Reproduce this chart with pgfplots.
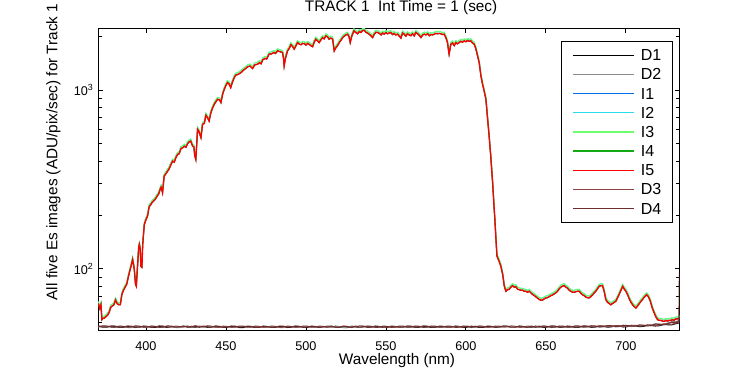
\documentclass[border=0pt]{standalone}
\usepackage{fontspec}
\setmainfont{Liberation Sans}
\usepackage{pgfplots}
\usepackage{pgfplotstable}
\pgfplotsset{compat=1.18}

\definecolor{cD1}{RGB}{0,0,0}
\definecolor{cD2}{RGB}{140,140,140}
\definecolor{cI1}{RGB}{0,114,230}
\definecolor{cI2}{RGB}{40,220,235}
\definecolor{cI3}{RGB}{110,255,110}
\definecolor{cI4}{RGB}{20,170,20}
\definecolor{cI5}{RGB}{255,0,0}
\definecolor{cD3}{RGB}{140,70,70}
\definecolor{cD4}{RGB}{110,45,45}

% signal: x, lower traces (I1,I4,I5), upper traces (I2,I3)
\pgfplotstableread{
x lo hi
370.3 64 65.6
371.2 60 61.5
371.9 63 64.6
372.5 52 53.3
373.2 53 54.3
374.0 53 54.3
375.0 54 55.4
376.0 55 56.4
377.0 57 58.4
378.0 61 62.5
379.0 62 63.6
380.0 63 64.6
381.0 67 68.7
382.0 64 65.6
383.0 63 64.6
384.0 63 64.6
385.0 72 73.8
386.0 76 77.9
387.0 79 81
388.0 82 84
389.0 90 92.3
390.0 98 100.5
391.0 106 108.7
391.7 113 115.8
392.7 100 102.5
393.5 82 84
394.0 80 82
394.9 108 110.7
395.5 132 135
395.9 137 140
396.4 130 133
396.9 103 105.6
397.5 102 104.6
398.0 137 140
399.0 177 181
400.0 188 193
401.0 197 202
402.0 222 228
403.0 228 234
404.0 236 242
405.0 240 246
406.0 246 252
407.0 255 261
408.0 262 269
409.0 280 287
409.5 286 293
410.4 266 273
411.4 330 338
412.5 340 349
413.5 351 360
414.5 362 371
415.5 380 390
416.7 400 410
417.7 395 405
418.7 418 428
419.8 436 447
420.8 440 451
421.9 470 482
423.0 475 487
424.0 485 497
425.0 478 490
426.0 500 513
427.0 512 525
428.0 518 531
429.2 485 497
430.0 480 492
430.5 430 441
431.2 409 419
432.3 603 618
433.0 590 605
434.4 541 555
435.4 643 659
436.5 650 666
437.5 722 740
438.5 700 718
439.5 670 687
440.5 740 759
441.7 795 815
443.0 840 861
444.8 887 909
446.0 880 902
446.9 850 871
448.0 950 974
449.0 1009 1034
450.0 1060 1087
451.0 1100 1128
452.0 1080 1107
453.0 1030 1056
454.0 1100 1128
455.0 1160 1189
456.0 1208 1238
457.5 1220 1251
459.4 1250 1281
461.0 1290 1322
462.5 1320 1353
463.5 1345 1379
465.0 1360 1394
466.7 1318 1351
468.0 1380 1415
469.8 1393 1428
471.0 1420 1456
472.0 1400 1435
473.0 1473 1510
474.5 1500 1538
475.5 1490 1527
477.0 1585 1625
478.5 1590 1630
480.0 1620 1661
481.0 1600 1640
482.3 1653 1694
483.5 1640 1681
485.4 1618 1658
486.0 1500 1538
486.4 1362 1396
487.2 1500 1538
488.5 1653 1694
489.5 1700 1743
490.6 1790 1835
491.6 1750 1794
492.7 1690 1732
493.7 1760 1804
494.8 1840 1886
496.0 1800 1845
497.0 1790 1835
498.0 1820 1866
499.0 1815 1860
500.0 1780 1825
501.0 1820 1866
502.0 1800 1845
503.0 1770 1814
504.2 1745 1789
505.2 1850 1896
506.2 1923 1971
507.3 1880 1927
508.3 1840 1886
509.3 1900 1948
510.4 1960 2009
511.4 1930 1978
512.5 2005 2055
513.5 1980 2030
514.5 1923 1971
515.6 1950 1999
516.7 1923 1971
517.7 1653 1694
518.7 1720 1763
519.8 1770 1814
521.0 1850 1896
522.0 1900 1948
523.0 1963 2012
524.0 2000 2050
525.0 2030 2081
526.0 2050 2101
527.0 1980 2030
527.7 1840 1886
528.7 2000 2050
530.0 2140 2194
531.0 2100 2153
532.3 2060 2112
533.4 2120 2173
534.4 2095 2147
535.4 2150 2204
536.4 2158 2212
537.5 2100 2153
538.5 2080 2132
539.5 2050 2101
540.6 2010 2060
541.7 1963 2012
542.7 2050 2101
543.8 2100 2153
544.8 2095 2147
545.9 2070 2122
547.0 2030 2081
548.0 2080 2132
549.0 2050 2101
550.0 2090 2142
551.0 2060 2112
552.0 2080 2132
553.0 2095 2147
554.1 2040 2091
555.1 2070 2122
556.2 2030 2081
557.3 2050 2101
558.3 2000 2050
559.4 1950 1999
560.4 2080 2132
561.4 2050 2101
562.5 2000 2050
563.5 2060 2112
564.5 2030 2081
565.6 2010 2060
566.6 2060 2112
567.7 2005 2055
568.7 2095 2147
569.8 2060 2112
570.8 2020 2071
571.9 1963 2012
573.0 2030 2081
574.0 2050 2101
575.0 2030 2081
576.1 2060 2112
577.1 2010 2060
578.1 2040 2091
579.2 2030 2081
580.2 2050 2101
581.2 2070 2122
582.3 2060 2112
583.3 2070 2122
584.4 2060 2112
585.4 2040 2091
586.4 2050 2101
587.5 1960 2009
588.5 1840 1886
589.0 1700 1743
589.5 1585 1625
590.1 1700 1743
590.6 1803 1848
591.6 1830 1876
592.7 1770 1814
593.7 1840 1886
594.7 1810 1855
595.8 1840 1886
596.8 1870 1917
597.8 1850 1896
599.0 1880 1927
600.0 1860 1907
601.0 1890 1937
602.0 1870 1917
603.1 1880 1927
604.1 1830 1876
605.2 1803 1848
606.2 1700 1743
607.3 1550 1589
608.3 1422 1458
609.4 1197 1227
610.4 1077 1104
611.4 987 1012
612.5 887 909
613.5 700 718
614.6 541 555
615.6 418 428
616.7 303 311
617.7 215 220
618.1 189 194
618.8 146 150
619.4 118 121
620.8 110 113
621.9 103 106
623.0 93 95
624.0 80 82
625.0 75 76.9
626.0 76.5 78.4
627.1 77 78.9
628.1 79 81
629.2 80.6 82.6
630.2 79 81
631.2 79.5 81.5
632.3 77 78.9
633.3 76.5 78.4
634.4 75.9 77.8
635.4 76 77.9
636.4 75 76.9
637.5 75 76.9
638.5 74 75.9
639.6 75 76.9
640.6 73.4 75.2
641.6 72 73.8
642.7 71 72.8
643.8 69.7 71.4
644.8 68.5 70.2
645.8 67.5 69.2
646.9 66.7 68.4
648.0 67 68.7
649.0 68 69.7
650.0 68.8 70.5
651.0 69 70.7
652.1 70 71.8
653.1 70.8 72.6
654.1 71.5 73.3
655.2 72.5 74.3
656.2 73.4 75.2
657.3 75 76.9
658.3 77.3 79.2
659.3 79 81
660.4 80 82
661.4 80.6 82.6
662.5 79 81
663.5 78 80
664.6 75.9 77.8
665.6 75 76.9
666.7 74 75.9
667.7 74 75.9
668.7 74.5 76.4
669.8 75 76.9
670.8 75 76.9
671.9 73 74.8
673.0 71.5 73.3
674.0 70.8 72.6
675.0 69.5 71.2
676.0 69 70.7
677.0 68.8 70.5
678.1 70 71.8
679.1 71.5 73.3
680.2 73.4 75.2
681.2 75 76.9
682.3 77.5 79.4
683.3 79.9 81.9
684.4 80.5 82.5
685.4 80.6 82.6
686.4 75 76.9
687.5 67.3 69
688.5 65 66.6
689.6 64 65.6
690.6 63 64.6
691.6 64 65.6
692.7 65 66.6
693.7 65.8 67.4
694.8 69 70.7
695.8 72 73.8
696.9 75.9 77.8
698.0 79.9 81.9
699.0 77 78.9
700.0 75 76.9
701.1 71.7 73.5
702.1 68 69.7
703.2 65 66.6
704.2 63 64.6
705.2 61.5 63
706.3 60.4 61.9
707.3 62 63.6
708.4 64 65.6
709.4 65.8 67.4
710.4 67.5 69.2
711.5 69.5 71.2
712.5 71 72.8
713.0 71.7 73.5
714.0 70 71.8
715.0 67 68.7
715.6 64.5 66.1
716.6 60 61.5
717.7 56.7 58.1
718.7 54 55.4
719.8 52 53.3
720.8 51.5 52.8
722.0 51.5 52.8
723.0 51 52.3
724.0 50.9 52.2
725.0 51.5 52.8
726.0 51 52.3
727.0 51.5 52.8
728.1 51.5 52.8
729.0 52 53.3
730.0 51.5 52.8
731.2 52.5 53.8
732.3 52.5 53.8
733.3 53 54.3
733.6 53.5 54.8
}\sig

\pgfplotstableread{
x D1 D2 D3 D4
370.3 47.8 47.2 48.1 47.5
373 47.2 47.8 47.3 48.0
376 47.3 47.7 47.4 47.9
378.5 47.9 47.1 48.0 47.3
381 47.6 47.1 47.9 47.2
383.5 47.0 47.7 47.2 47.9
386 47.1 47.5 47.3 47.7
388.5 47.7 47.0 48.0 47.2
391 47.5 47.0 47.8 47.4
393.5 47.0 47.8 47.2 48.0
396 47.2 47.6 47.1 47.8
398.5 47.8 47.1 47.9 47.3
401 47.6 47.3 47.7 47.2
403.5 47.1 47.9 47.2 47.9
406 47.0 47.6 47.4 47.6
408.5 47.7 47.0 48.1 47.1
411 47.4 47.1 47.9 47.3
413.5 47.0 47.8 47.3 48.0
416 47.7 47.5 47.2 47.8
418.5 47.1 47.0 47.9 47.2
421 47.2 47.0 47.6 47.4
423.5 47.8 47.6 47.2 47.9
426 47.5 47.8 47.9 47.1
428.5 47.0 47.1 47.3 47.8
431 47.1 47.3 48.2 47.6
433.5 47.7 47.9 47.4 47.1
436 47.6 47.0 47.5 47.9
438.5 47.1 47.7 48.1 47.3
441 47.3 47.6 47.8 47.2
443.5 47.8 47.0 47.2 47.9
446 47.7 47.2 47.1 47.6
448.5 47.1 47.8 47.8 47.1
451 47.2 47.5 47.6 47.3
453.5 47.8 47.0 47.1 47.9
456 47.5 47.1 47.3 47.8
458.5 47.0 47.7 47.9 47.2
461 47.0 47.6 47.8 47.4
463.5 47.6 47.0 47.2 47.9
466 47.4 47.2 47.2 47.7
468.5 47.0 47.8 47.9 47.1
471 47.2 47.6 47.6 47.1
473.5 47.8 47.1 47.1 47.8
476 47.6 47.1 47.3 47.5
478.5 47.1 47.8 47.9 47.1
481 47.1 47.4 47.7 47.2
483.5 47.7 47.0 47.1 47.9
486 47.5 47.0 47.2 47.8
488.5 47.0 47.7 47.9 47.2
491 47.2 47.5 47.6 47.4
493.5 47.8 47.0 47.1 47.9
496 47.6 47.2 47.3 47.7
498.5 47.1 47.8 47.9 47.1
501 47.1 47.6 47.8 47.2
503.5 47.7 47.0 47.2 47.9
506 47.4 47.1 47.2 47.6
508.5 47.0 47.7 47.9 47.1
511 47.7 47.5 47.6 47.3
513.5 47.1 47.1 47.1 47.9
516 47.2 47.0 47.9 47.8
518.5 47.8 47.7 47.2 47.1
521 47.5 47.6 47.3 47.1
523.5 47.0 47.0 47.9 47.8
526 47.0 47.2 47.7 47.5
528.5 47.7 47.8 47.1 47.0
531 47.4 47.7 47.4 47.9
533.5 47.0 47.1 48.0 47.2
536 47.7 47.3 47.9 47.4
538.5 47.1 47.8 47.2 47.9
541 47.2 47.6 47.3 47.7
543.5 47.8 47.0 47.9 47.1
546 47.5 47.1 47.7 47.2
548.5 47.0 47.7 47.1 47.9
551 47.1 47.5 47.2 47.6
553.5 47.7 47.1 47.9 47.1
556 47.6 47.0 47.6 47.3
558.5 47.1 47.7 47.1 47.9
561 47.3 47.4 47.3 47.8
563.5 47.9 47.0 47.9 47.2
566 47.6 47.1 47.8 47.4
568.5 47.0 47.8 47.2 47.9
571 47.2 47.6 47.4 47.7
573.5 47.8 47.0 48.0 47.1
576 47.5 47.2 47.9 47.3
578.5 47.0 47.8 47.2 47.9
581 47.1 47.5 47.3 47.8
583.5 47.7 47.0 47.9 47.2
586 47.6 47.1 47.7 47.4
588.5 47.1 47.7 47.1 47.9
591 47.3 47.6 47.2 47.7
593.5 47.8 47.1 47.9 47.1
596 47.6 47.2 47.6 47.2
598.5 47.0 47.8 47.2 47.9
601 47.2 47.5 47.9 47.6
603.5 47.8 47.0 47.3 47.1
606 47.5 47.1 47.4 47.8
608.5 47.0 47.7 48.0 47.2
611 47.1 47.6 47.7 47.3
613.5 47.7 47.0 47.1 47.9
616 47.6 47.3 47.3 47.7
618.5 47.1 47.8 47.9 47.1
621 47.3 47.0 47.8 47.4
623.5 47.9 47.7 47.2 47.9
626 47.7 47.5 47.4 47.8
628.5 47.1 47.0 48.0 47.2
631 47.2 47.1 47.7 47.3
633.5 47.8 47.8 47.1 47.9
636 47.5 47.6 47.2 47.6
638.5 47.0 47.1 47.9 47.1
641 47.1 47.3 47.6 47.9
643.5 47.8 47.9 47.1 47.2
646 47.6 47.0 47.9 47.4
648.5 47.0 47.7 47.3 48.0
651 47.3 47.5 47.4 47.7
653.5 47.9 47.0 48.0 47.1
656 47.7 47.2 47.8 47.3
658.5 47.1 47.8 47.2 47.9
661 47.2 47.6 47.3 47.8
663.5 47.8 47.0 47.9 47.2
666 47.5 47.1 47.7 47.4
668.5 47.0 47.8 47.2 48.0
671 47.2 47.6 47.4 47.9
673.5 47.9 47.1 48.0 47.3
676 47.6 47.3 47.9 47.5
678.5 47.1 47.9 47.3 48.1
681 47.3 47.7 47.5 47.9
683.5 47.9 47.2 48.1 47.4
686 47.7 47.4 48.0 47.6
688.5 47.2 48.0 47.4 48.2
691 47.4 47.9 47.6 48.1
693.5 48.0 47.4 48.2 47.6
696 47.8 47.5 48.1 47.7
698.5 47.3 48.2 47.6 48.4
701 47.5 48.0 47.8 48.2
703.5 48.1 47.6 48.4 47.8
706 47.9 47.7 48.3 47.9
708.5 47.5 48.5 47.8 48.6
711 47.7 48.3 48.0 48.4
713.5 48.3 48.1 48.7 48.0
716 48.2 48.6 48.5 48.2
718.5 47.9 49.4 48.2 49.1
721 48.1 49.2 48.4 48.9
723.5 48.8 49.0 49.2 48.7
726 48.7 49.8 49.1 49.3
728.5 48.6 50.7 49.0 50.2
731 49.3 50.6 49.6 50.1
733.1 49.8 51.5 50.2 51
733.4 49.8 51.5 50.2 95
}\dark

\begin{document}
\begin{tikzpicture}
\useasboundingbox (-73.7pt,-33.2pt) rectangle (489pt,248pt);
\begin{axis}[
  at={(0pt,0pt)}, anchor=south west,
  scale only axis, width=436.1pt, height=226.8pt,
  xmin=370.2, xmax=733.5, ymin=45.2, ymax=2212,
  ymode=log,
  xtick={400,450,500,550,600,650,700},
  ytick={100,1000},
  yticklabels={10\textsuperscript{2},10\textsuperscript{3}},
  minor ytick={50,60,70,80,90,200,300,400,500,600,700,800,900,2000},
  /pgf/number format/assume math mode=true,
  /pgf/number format/1000 sep={},
  tick align=inside,
  major tick length=3.5pt, minor tick length=2.5pt,
  axis line style={line width=0.75pt},
  every tick/.style={black, line width=0.6pt},
  tick label style={font=\fontsize{9.5}{11}\selectfont},
  xticklabel style={anchor=base, yshift=-15pt},
  title={TRACK 1\ \ Int Time = 1 (sec)},
  title style={at={(axis description cs:0.521,1.0298)}, anchor=base, font=\fontsize{11.5}{13}\selectfont},
  xlabel={Wavelength (nm)},
  xlabel style={at={(axis description cs:0.514,-0.1134)}, anchor=base, font=\fontsize{11.5}{13}\selectfont},
  ylabel={All five Es images (ADU/pix/sec) for Track 1},
  ylabel style={at={(axis description cs:-0.0702,0.591)}, anchor=base, font=\fontsize{11.5}{13}\selectfont},
  legend cell align=left,
  legend image code/.code={\draw[#1, line width=1pt] (0pt,0pt) -- (45.75pt,0pt);},
  legend style={at={(axis description cs:0.988,0.958)}, anchor=north east,
    draw=black, line width=0.75pt, font=\fontsize{12}{12}\selectfont,
    inner xsep=8pt, inner ysep=6.2pt, row sep=6.2pt, column sep=4.5pt,
    nodes={inner sep=0pt, text height=8.2pt, text depth=0pt}},
  every axis plot/.append style={line width=0.75pt},
]
\addplot[cD1, mark=none] table[x=x, y=D1] {\dark};
\addlegendentry{D1}
\addplot[cD2, mark=none] table[x=x, y=D2] {\dark};
\addlegendentry{D2}
\addplot[cI1, mark=none] table[x=x, y=lo] {\sig};
\addlegendentry{I1}
\addplot[cI2, mark=none] table[x=x, y=hi] {\sig};
\addlegendentry{I2}
\addplot[cI3, mark=none] table[x=x, y=hi] {\sig};
\addlegendentry{I3}
\addplot[cI4, mark=none] table[x=x, y=lo] {\sig};
\addlegendentry{I4}
\addplot[cI5, mark=none, line width=1pt] table[x=x, y=lo] {\sig};
\addlegendentry{I5}
\addplot[cD3, mark=none] table[x=x, y=D3] {\dark};
\addlegendentry{D3}
\addplot[cD4, mark=none] table[x=x, y=D4] {\dark};
\addlegendentry{D4}
\end{axis}
\end{tikzpicture}
\end{document}
